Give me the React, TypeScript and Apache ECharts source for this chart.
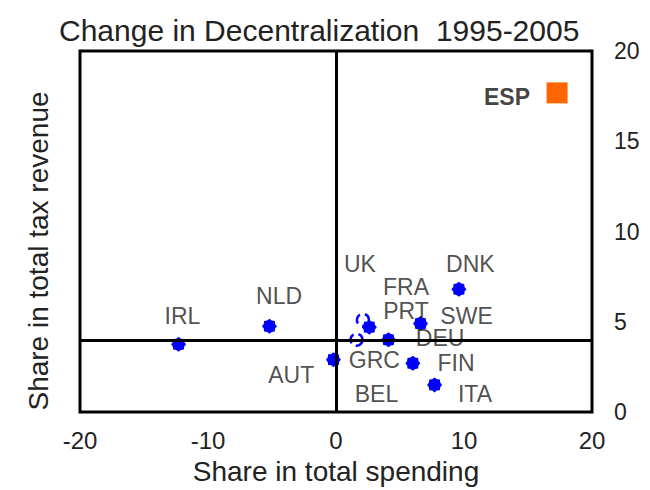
import React, { useEffect, useRef } from "react";
import * as echarts from "echarts";

const FONT = "Liberation Sans, Arial, sans-serif";

const pointNames = ["IRL", "NLD", "AUT", "PRT", "DEU", "SWE", "FIN", "ITA", "DNK"];
const pointValues: [number, number][] = [
  [-12.3, 3.75],
  [-5.2, 4.75],
  [-0.2, 2.9],
  [2.6, 4.7],
  [4.1, 4.0],
  [6.6, 4.9],
  [6.0, 2.7],
  [7.7, 1.5],
  [9.6, 6.8],
];

const hollowNames = ["UK", "GRC"];
const hollowValues: [number, number][] = [
  [2.1, 5.1],
  [1.6, 4.0],
];

const espValue: [number, number] = [17.27, 17.68];

const labelNames = ["UK", "FRA", "DNK", "NLD", "IRL", "PRT", "SWE", "DEU", "GRC", "FIN", "AUT", "BEL", "ITA"];
const labelAnchors: [number, number][] = [
  [1.87, 8.18],
  [5.47, 6.95],
  [10.5, 8.18],
  [-4.45, 6.44],
  [-12.0, 5.33],
  [5.47, 5.58],
  [10.2, 5.33],
  [8.13, 4.12],
  [3.0, 2.87],
  [9.38, 2.73],
  [-3.5, 2.04],
  [3.16, 0.97],
  [10.86, 0.97],
];
const espLabelAnchor: [number, number] = [13.36, 17.43];

const crossX = 0;
const crossY = 3.95;

const xTicks = { min: -20, max: 20, interval: 10 };
const yTicks = { min: 0, max: 20, interval: 5 };

const titleText = "Change in Decentralization  1995-2005";
const xName = "Share in total spending";
const yName = "Share in total tax revenue";

function blobPath(): string {
  const n = 16;
  const pts: string[] = [];
  for (let i = 0; i < n; i++) {
    const a = (i * 2 * Math.PI) / n;
    const r = i % 2 === 0 ? 10 : 8.2;
    pts.push(`${(10 + r * Math.cos(a)).toFixed(2)} ${(10 + r * Math.sin(a)).toFixed(2)}`);
  }
  return "path://M" + pts.join(" L") + " Z";
}

export default function App() {
  const ref = useRef<HTMLDivElement>(null);
  useEffect(() => {
    if (!ref.current) return;
    const chart = echarts.init(ref.current, undefined, { renderer: "svg" });
    const blob = blobPath();
    chart.setOption({
      animation: false,
      backgroundColor: "#ffffff",
      title: {
        text: titleText,
        left: 54,
        top: 10,
        textStyle: { fontFamily: FONT, fontSize: 30, fontWeight: "normal", color: "#222" },
      },
      grid: {
        left: 80,
        right: 58,
        top: 51,
        bottom: 77,
        show: true,
        borderColor: "#000",
        borderWidth: 3,
        backgroundColor: "transparent",
      },
      xAxis: {
        type: "value",
        min: xTicks.min,
        max: xTicks.max,
        interval: xTicks.interval,
        axisLine: { show: false },
        axisTick: { show: false },
        splitLine: { show: false },
        axisLabel: { fontFamily: FONT, fontSize: 24, color: "#222", margin: 16 },
        name: xName,
        nameLocation: "middle",
        nameGap: 45,
        nameTextStyle: { fontFamily: FONT, fontSize: 28, color: "#222" },
      },
      yAxis: {
        type: "value",
        position: "right",
        min: yTicks.min,
        max: yTicks.max,
        interval: yTicks.interval,
        axisLine: { show: false },
        axisTick: { show: false },
        splitLine: { show: false },
        axisLabel: { fontFamily: FONT, fontSize: 23, color: "#222", margin: 22 },
      },
      graphic: [
        {
          type: "text",
          x: 38,
          y: 251,
          rotation: Math.PI / 2,
          style: {
            text: yName,
            fontFamily: FONT,
            fontSize: 28,
            fill: "#222",
            align: "center",
            verticalAlign: "middle",
          },
        },
      ],
      series: [
        {
          type: "scatter",
          name: "lines",
          data: [],
          markLine: {
            silent: true,
            symbol: "none",
            label: { show: false },
            lineStyle: { color: "#000", width: 3, type: "solid", opacity: 1 },
            data: [{ xAxis: crossX }, { yAxis: crossY }],
          },
        },
        {
          type: "scatter",
          name: "labels",
          symbolSize: 0,
          data: labelNames.map((n, i) => ({ name: n, value: labelAnchors[i] })),
          label: {
            show: true,
            position: "inside",
            formatter: "{b}",
            fontFamily: FONT,
            fontSize: 23,
            lineHeight: 21,
            color: "#222",
          },
        },
        {
          type: "scatter",
          name: "esplabel",
          symbolSize: 0,
          data: [{ name: "ESP", value: espLabelAnchor }],
          label: {
            show: true,
            position: "inside",
            formatter: "{b}",
            fontFamily: FONT,
            fontSize: 23,
            fontWeight: "bold",
            color: "#111",
          },
        },
        {
          type: "scatter",
          name: "hollow",
          symbol: "circle",
          symbolSize: 12,
          data: hollowNames.map((n, i) => ({ name: n, value: hollowValues[i] })),
          itemStyle: {
            color: "#ffffff",
            borderColor: "#0000ff",
            borderWidth: 2.5,
            borderType: "dashed",
            opacity: 1,
          },
        },
        {
          type: "scatter",
          name: "points",
          symbol: blob,
          symbolSize: 15,
          data: pointNames.map((n, i) => ({ name: n, value: pointValues[i] })),
          itemStyle: { color: "#0000ff", opacity: 1 },
        },
        {
          type: "scatter",
          name: "ESP",
          symbol: "rect",
          symbolSize: 21,
          data: [{ name: "ESP", value: espValue }],
          itemStyle: { color: "#ff6600", opacity: 1 },
        },
      ],
    });
    return () => chart.dispose();
  }, []);
  return (
    <div
      ref={ref}
      style={{ position: "fixed", left: 0, top: 0, width: 650, height: 490, background: "#fff" }}
    />
  );
}
